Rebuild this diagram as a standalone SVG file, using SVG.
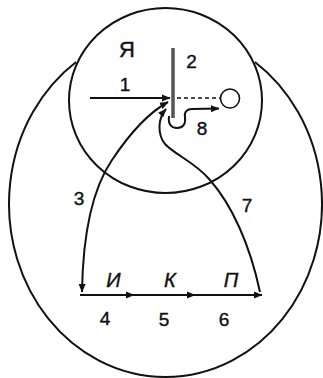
<svg xmlns="http://www.w3.org/2000/svg" width="323" height="378" viewBox="0 0 323 378">
  <style>
    .ln { fill: none; stroke: #111; stroke-width: 2; }
    .arr { marker-end: url(#ah); }
    .t { font-family: "Liberation Sans", Arial, sans-serif; font-size: 19px; fill: #111; stroke: #111; stroke-width: 0.4; text-anchor: middle; }
    .it { font-style: italic; font-size: 20px; }
  </style>
  <defs>
    <marker id="ah" markerUnits="userSpaceOnUse" markerWidth="9" markerHeight="8" refX="8" refY="4" orient="auto-start-reverse">
      <path d="M0,0.5 L8.5,4 L0,7.5 Z" fill="#111"/>
    </marker>
  </defs>
  <rect width="323" height="378" fill="#fff"/>

  <g id="outer-oval">
    <path class="ln" d="M 76.1 62 A 156.5 173 0 1 0 254.9 62"/>
  </g>

  <g id="self-circle">
    <ellipse class="ln" cx="165.5" cy="100.5" rx="96.5" ry="92.5"/>
    <text class="t" x="127" y="57" style="font-size:22px">Я</text>
  </g>

  <g id="barrier">
    <line x1="173" y1="48" x2="173" y2="118" stroke="#555" stroke-width="3.5"/>
    <text class="t" x="191.5" y="68">2</text>
  </g>

  <g id="object">
    <circle cx="230" cy="98.5" r="9.5" fill="#fff" stroke="#111" stroke-width="1.6"/>
  </g>

  <g id="scale">
    <text class="t it" x="113.5" y="287">И</text>
    <text class="t it" x="170" y="287">К</text>
    <text class="t it" x="231" y="287">П</text>
  </g>

  <g id="connectors">
    <line class="ln arr" x1="90" y1="98" x2="170" y2="98"/>
    <line x1="177" y1="98" x2="220" y2="98" stroke="#111" stroke-width="1.3" stroke-dasharray="4 3"/>
    <path class="ln" d="M 82 292 C 83 225, 95 185, 112 160 C 130 133, 148 113, 168 102" marker-start="url(#ah)" marker-end="url(#ah)"/>
    <line class="ln arr" x1="80" y1="295" x2="134" y2="295"/>
    <line class="ln arr" x1="134" y1="295" x2="195" y2="295"/>
    <line class="ln arr" x1="195" y1="295" x2="262" y2="295"/>
    <path class="ln arr" d="M 260 292 C 250 245, 232 205, 210 180 C 195 162, 175 155, 165 144 C 157 134, 158 118, 166 109"/>
    <path class="ln arr" d="M 169 116 C 168 124, 171 128, 177 128 C 183 128, 186 124, 185 117 C 184 112, 187 109, 192 109 L 219 108.5"/>
  </g>

  <g id="labels">
    <text class="t" x="125" y="91">1</text>
    <text class="t" x="79" y="205">3</text>
    <text class="t" x="247" y="212">7</text>
    <text class="t" x="202" y="135">8</text>
    <text class="t" x="105" y="325">4</text>
    <text class="t" x="164" y="326">5</text>
    <text class="t" x="224" y="326">6</text>
  </g>
</svg>
